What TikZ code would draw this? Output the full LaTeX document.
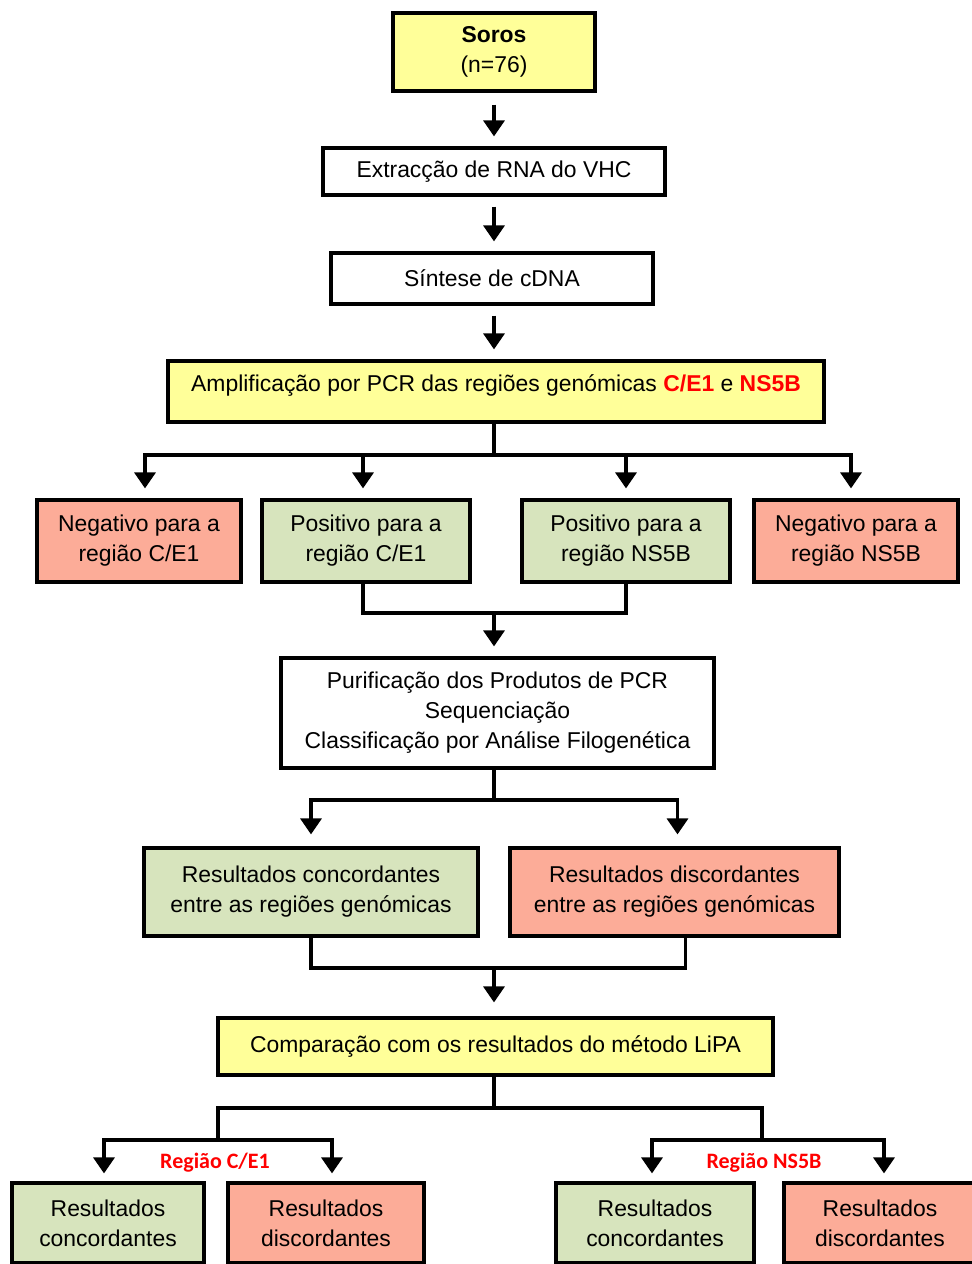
\documentclass[tikz,border=0pt]{standalone}
\usepackage{fontspec}
\setmainfont{Liberation Sans}
\newfontfamily\calfont{Carlito}
\usepackage{xcolor}
\usetikzlibrary{arrows.meta}

\definecolor{amarelo}{RGB}{255,255,153}
\definecolor{verde}{RGB}{215,228,189}
\definecolor{salmao}{RGB}{252,172,152}
\definecolor{vermelho}{RGB}{255,0,0}

\tikzset{
  caixa/.style={draw=black, line width=3.2pt, inner sep=0pt, align=center,
    font=\fontsize{22.9}{30}\selectfont},
  linha/.style={line width=3.4pt},
  seta/.style={line width=3.4pt, -{Triangle[length=16pt,width=21pt]},
    shorten >=10pt},
  regiao/.style={text=vermelho, font=\calfont\bfseries\fontsize{22}{26}\selectfont}
}

\begin{document}
\begin{tikzpicture}[x=1pt, y=-1pt]
\useasboundingbox (0,0) rectangle (972,1264);

\node [caixa, fill=amarelo, minimum width=202pt, minimum height=78pt] (soros) at (494,52)
    {\textbf{Soros}\\(n=76)};
\node [caixa, minimum width=342pt, minimum height=47pt] (extr) at (494,171.5)
    {Extracção de RNA do VHC};
\node [caixa, minimum width=322pt, minimum height=51pt] (sint) at (492,278.5)
    {Síntese de cDNA};
\node [caixa, fill=amarelo, minimum width=656pt, minimum height=61pt,
    text height=18pt, text depth=18pt] (amp) at (496,391.5)
    {Amplificação por PCR das regiões genómicas \textcolor{vermelho}{\textbf{C/E1}} e \textcolor{vermelho}{\textbf{NS5B}}};

\node [caixa, fill=salmao, minimum width=204pt, minimum height=82pt] (negce) at (139,541)
    {Negativo para a\\região C/E1};
\node [caixa, fill=verde, minimum width=208pt, minimum height=82pt] (posce) at (366,541)
    {Positivo para a\\região C/E1};
\node [caixa, fill=verde, minimum width=208pt, minimum height=82pt] (posns) at (626,541)
    {Positivo para a\\região NS5B};
\node [caixa, fill=salmao, minimum width=204pt, minimum height=82pt] (negns) at (856,541)
    {Negativo para a\\região NS5B};

\node [caixa, minimum width=433pt, minimum height=110pt] (puri) at (497.5,713)
    {Purificação dos Produtos de PCR\\Sequenciação\\Classificação por Análise Filogenética};

\node [caixa, fill=verde, minimum width=334pt, minimum height=88pt] (conc) at (311,892)
    {Resultados concordantes\\entre as regiões genómicas};
\node [caixa, fill=salmao, minimum width=329pt, minimum height=88pt] (disc) at (674.5,892)
    {Resultados discordantes\\entre as regiões genómicas};

\node [caixa, fill=amarelo, minimum width=555pt, minimum height=57pt] (comp) at (495.5,1046.5)
    {Comparação com os resultados do método LiPA};

\node [caixa, fill=verde, minimum width=192pt, minimum height=80pt] (concce) at (108,1223)
    {Resultados\\concordantes};
\node [caixa, fill=salmao, minimum width=196pt, minimum height=80pt] (discce) at (326,1223)
    {Resultados\\discordantes};
\node [caixa, fill=verde, minimum width=198pt, minimum height=80pt] (concns) at (655,1223)
    {Resultados\\concordantes};
\node [caixa, fill=salmao, minimum width=192pt, minimum height=80pt] (discns) at (880,1223)
    {Resultados\\discordantes};

\node [regiao] (regce) at (215,1163) {Região C/E1};
\node [regiao] (regns) at (764,1163) {Região NS5B};

\coordinate (ramo1) at (494,455);
\coordinate (ramo2) at (494,613);
\coordinate (ramo3) at (494,800);
\coordinate (ramo4) at (494,968);
\coordinate (ramo5) at (494,1108);
\coordinate (ramoce) at (218,1140);
\coordinate (ramons) at (762,1140);

\draw [seta, shorten <=12pt] (soros.south -| ramo1) -- (ramo1 |- extr.north);
\draw [seta, shorten <=10pt] (extr.south -| ramo1) -- (ramo1 |- sint.north);
\draw [seta, shorten <=10pt] (sint.south -| ramo1) -- (ramo1 |- amp.north);

\draw [linha] (amp.south -| ramo1) -- (ramo1);
\draw [seta] (ramo1) -| ([xshift=6pt]negce.north);
\draw [seta] (ramo1) -| ([xshift=-3pt]posce.north);
\draw [seta] (ramo1) -| (posns.north);
\draw [seta] (ramo1) -| ([xshift=-5pt]negns.north);

\draw [linha] ([xshift=-3pt]posce.south) |- (ramo2) -| (posns.south);
\draw [seta] (ramo2) -- (ramo2 |- puri.north);

\draw [linha] (puri.south -| ramo3) -- (ramo3);
\draw [seta, shorten >=12pt] (ramo3) -| (conc.north);
\draw [seta, shorten >=12pt] (ramo3) -| ([xshift=3pt]disc.north);

\draw [linha] (conc.south) |- (ramo4) -| ([xshift=11pt]disc.south);
\draw [seta, shorten >=14pt] (ramo4) -- (ramo4 |- comp.north);

\draw [linha] (comp.south -| ramo5) -- (ramo5) -| (ramoce);
\draw [linha] (ramo5) -| (ramons);
\draw [seta, shorten >=8pt] (ramoce) -| ([xshift=-4pt]concce.north);
\draw [seta, shorten >=8pt] (ramoce) -| ([xshift=6pt]discce.north);
\draw [seta, shorten >=8pt] (ramons) -| ([xshift=-3pt]concns.north);
\draw [seta, shorten >=8pt] (ramons) -| ([xshift=4pt]discns.north);
\end{tikzpicture}
\end{document}
